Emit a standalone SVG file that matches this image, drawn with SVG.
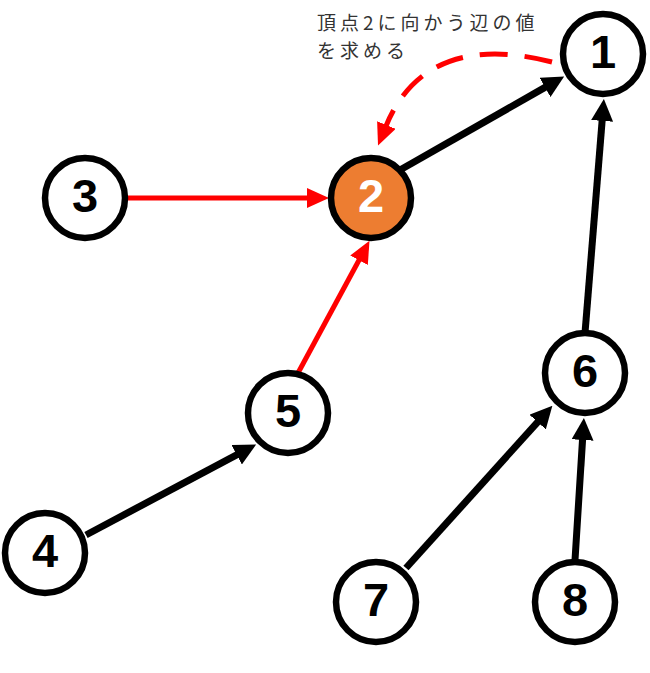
<svg xmlns="http://www.w3.org/2000/svg" width="650" height="673" viewBox="0 0 650 673">
<style>
.node circle{stroke:#000;stroke-width:6.5;fill:#fff}
.node text{font-family:"Liberation Sans",Arial,sans-serif;font-size:47px;font-weight:bold;text-anchor:middle;fill:#000}
.blk{stroke:#000;stroke-width:7;fill:none}
.red{stroke:#ff0000;stroke-width:5;fill:none}
.lbl{font-family:"Noto Sans CJK JP","Noto Sans",sans-serif;font-size:19px;fill:#333;letter-spacing:4px}
</style>
<defs>
<marker id="ab" markerUnits="userSpaceOnUse" markerWidth="22" markerHeight="22" viewBox="0 0 22 22" refX="1" refY="11" orient="auto"><path d="M0,0 L22,11 L0,22 z" fill="#000"/></marker>
<marker id="ar" markerUnits="userSpaceOnUse" markerWidth="22" markerHeight="20" viewBox="0 0 22 20" refX="1" refY="10" orient="auto"><path d="M0,0 L22,10 L0,20 z" fill="#ff0000"/></marker>
</defs>
<rect width="650" height="673" fill="#fff"/>
<g id="connectors">
<line class="red" x1="126" y1="198" x2="308" y2="198" marker-end="url(#ar)"/>
<line class="red" x1="298" y1="373" x2="359.5" y2="259.3" marker-end="url(#ar)"/>
<line class="blk" x1="400" y1="170" x2="545.9" y2="86.9" marker-end="url(#ab)"/>
<line class="blk" x1="585" y1="333" x2="602.2" y2="119.9" marker-end="url(#ab)"/>
<line class="blk" x1="86" y1="535" x2="237.6" y2="454.3" marker-end="url(#ab)"/>
<line class="blk" x1="406" y1="568" x2="538.3" y2="421.3" marker-end="url(#ab)"/>
<line class="blk" x1="575" y1="560" x2="582.6" y2="439" marker-end="url(#ab)"/>
<path class="red" d="M552,62 C490,46 418,48 386,126" stroke-width="5.5" stroke-dasharray="28,17" marker-end="url(#ar)"/>
</g>
<g id="label">
<text class="lbl" x="317" y="30">頂点2に向かう辺の値</text>
<text class="lbl" x="317" y="58">を求める</text>
</g>
<g id="n1" class="node"><circle cx="603" cy="54" r="40"/><text x="603" y="68">1</text></g>
<g id="n2" class="node"><circle cx="371" cy="198" r="40" style="fill:#ED7D31"/><text x="371" y="212" style="fill:#fff">2</text></g>
<g id="n3" class="node"><circle cx="85" cy="198" r="40"/><text x="85" y="212">3</text></g>
<g id="n4" class="node"><circle cx="45" cy="553" r="40"/><text x="45" y="567">4</text></g>
<g id="n5" class="node"><circle cx="288" cy="413" r="40"/><text x="288" y="427">5</text></g>
<g id="n6" class="node"><circle cx="585" cy="373" r="40"/><text x="585" y="387">6</text></g>
<g id="n7" class="node"><circle cx="376" cy="602" r="40"/><text x="376" y="616">7</text></g>
<g id="n8" class="node"><circle cx="575" cy="602" r="40"/><text x="575" y="616">8</text></g>
</svg>
